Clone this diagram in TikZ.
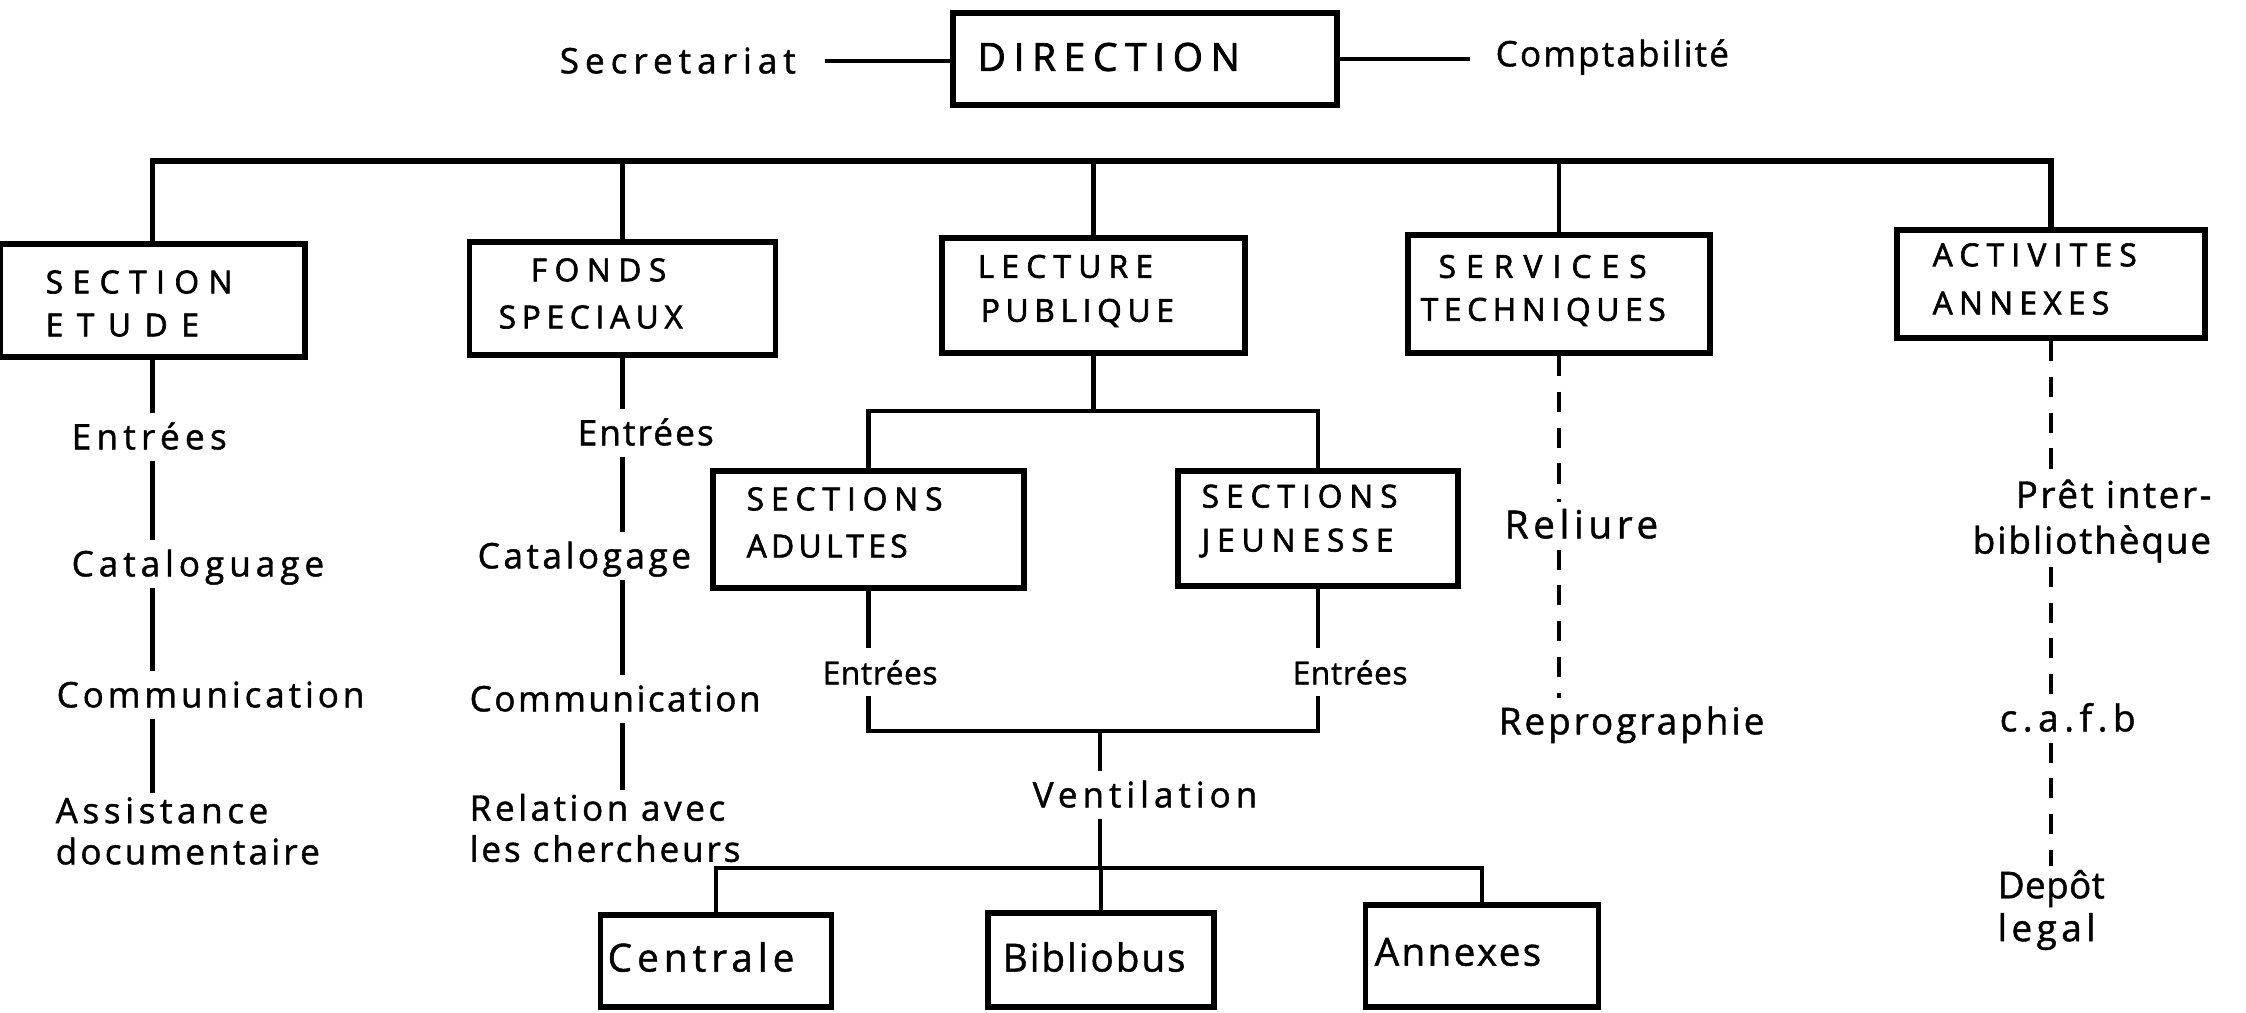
\documentclass[tikz,border=0pt]{standalone}
\usepackage{fontspec}
\setmainfont{Open Sans}
\newfontfamily\hand[FakeBold=1.2]{Open Sans}
\newfontfamily\capf[FakeBold=2]{Open Sans}
\newcommand\HF[3]{\hand\fontsize{#1}{#2}\selectfont\addfontfeature{LetterSpace=#3}}
\newcommand\CF[3]{\capf\fontsize{#1}{#2}\selectfont\addfontfeature{LetterSpace=#3}}
\newcommand\LS[1]{\addfontfeature{LetterSpace=#1}}
\begin{document}
\begin{tikzpicture}[x=0.01cm,y=-0.01cm,
  box/.style={draw, line width=1.6pt, inner sep=0pt},
  conn/.style={line width=1.2pt},
  bus/.style={line width=1.6pt},
  dsh/.style={line width=1.2pt, dash pattern=on 5.7pt off 4.5pt},
  txt/.style={anchor=west, inner xsep=0pt, inner ysep=1pt, text height=9pt, text depth=2pt},
  mtxt/.style={anchor=west, inner xsep=0pt, inner ysep=1pt, align=left},
  lbl/.style={anchor=west, inner sep=0pt, align=left}]
\useasboundingbox (0,0) rectangle (2246,1012);
\fill[white] (0,0) rectangle (2246,1012);

% --- boxes ---
\node[box, minimum width=3.84cm, minimum height=0.92cm] (dir) at (1145,59) {};
\node[box, minimum width=3.05cm, minimum height=1.13cm] (se) at (152.5,300.5) {};
\node[box, minimum width=3.06cm, minimum height=1.13cm] (fs) at (622.5,298.5) {};
\node[box, minimum width=3.03cm, minimum height=1.15cm] (lp) at (1093.5,295.5) {};
\node[box, minimum width=3.02cm, minimum height=1.18cm] (st) at (1559,294) {};
\node[box, minimum width=3.08cm, minimum height=1.08cm] (aa) at (2051,284) {};
\node[box, minimum width=3.11cm, minimum height=1.17cm] (sa) at (868.5,529.5) {};
\node[box, minimum width=2.80cm, minimum height=1.15cm] (sj) at (1318,528.5) {};
\node[box, minimum width=2.31cm, minimum height=0.92cm] (ce) at (716,961) {};
\node[box, minimum width=2.26cm, minimum height=0.94cm] (bi) at (1101,960) {};
\node[box, minimum width=2.33cm, minimum height=1.02cm] (an) at (1482,956) {};

% --- box labels ---
\node[lbl, font=\CF{11}{13}{20}] (dirL) at (977,57) {DIRECTION};
\node[lbl, font=\CF{9}{12.2}{0}] (seL) at (45,303.5) {{\LS{30}SECTION}\\{\LS{43}ETUDE}};
\node[lbl, font=\CF{9}{13.4}{0}] (fsL) at (498,293.5) {{\hspace*{9.1pt}\LS{24}FONDS}\\{\LS{18}SPECIAUX}};
\node[lbl, font=\CF{9}{12.5}{0}] (lpL) at (977,291) {{\LS{23}LECTURE}\\{\hspace*{0.9pt}\LS{18}PUBLIQUE}};
\node[lbl, font=\CF{9}{12.2}{0}] (stL) at (1420,290.5) {{\hspace*{5.1pt}\LS{32}SERVICES}\\{\LS{18}TECHNIQUES}};
\node[lbl, font=\CF{9}{13.7}{0}] (aaL) at (1932,279) {{\LS{23}ACTIVITES}\\{\LS{20}ANNEXES}};
\node[lbl, font=\CF{9}{13.4}{0}] (saL) at (746,522.5) {{\LS{22}SECTIONS}\\{\LS{14}ADULTES}};
\node[lbl, font=\CF{9}{12.5}{0}] (sjL) at (1201,521) {{\LS{22}SECTIONS}\\{\LS{22}JEUNESSE}};
\node[lbl, font=\HF{11}{13}{13}] (ceL) at (607,957) {Centrale};
\node[lbl, font=\HF{11}{13}{5}] (biL) at (1002,957) {Bibliobus};
\node[lbl, font=\HF{11}{13}{6}] (anL) at (1374,952) {Annexes};

% --- text labels ---
\node[txt, font=\HF{10}{12}{17}] (sec) at (559,61) {Secretariat};
\node[txt, font=\HF{10}{12}{6}] (comp) at (1495,54) {Comptabilité};

\node[txt, font=\HF{10}{12}{15}] (seE) at (71,437) {Entrées};
\node[txt, font=\HF{10}{12}{14}] (seC) at (71,564) {Cataloguage};
\node[txt, font=\HF{10}{12}{11}] (seM) at (56,695) {Communication};
\node[mtxt, font=\HF{10}{11.7}{0}] (seA) at (55,831) {{\LS{13}Assistance}\\{\LS{9}documentaire}};

\node[txt, font=\HF{10}{12}{6}] (fsE) at (577,433) {Entrées};
\node[txt, font=\HF{10}{12}{10}] (fsC) at (477,556) {Catalogage};
\node[txt, font=\HF{10}{12}{7}] (fsM) at (469,699) {Communication};
\node[mtxt, font=\HF{10}{11.7}{0}] (fsR) at (469,828) {{\LS{10}Relation avec}\\{\LS{8}les chercheurs}};

\node[txt, font=\HF{9}{11}{2}] (saE) at (822,672) {Entrées};
\node[txt, font=\HF{9}{11}{2}] (sjE) at (1292,672) {Entrées};
\node[txt, font=\HF{10}{12}{14}] (ven) at (1032,795) {Ventilation};

\node[txt, font=\HF{11}{13}{12}] (rel) at (1504,526) {Reliure};
\node[txt, font=\HF{10.5}{12}{8}] (rep) at (1498,722) {Reprographie};

\node[mtxt, font=\HF{10.5}{13}{0}] (pret) at (1972,521) {{\hspace*{12.2pt}\LS{7}Prêt inter-}\\{\LS{5}bibliothèque}};
\node[txt, font=\HF{10.5}{12}{15}] (cafb) at (1999,719) {c.a.f.b};
\node[mtxt, font=\HF{10.5}{12.2}{0}] (depot) at (1997,910) {{\LS{1}Depôt}\\{\LS{12}legal}};

% --- connectors ---
\draw[conn, shorten <=8pt] (sec.east) -- (sec.east -| dir.west);
\draw[conn, shorten >=7pt] (dir.east) -- (dir.east -| comp.west);

\coordinate (busc) at (1100,161);
\draw[bus] (se.north) |- (busc) -| (aa.north);
\draw[conn] (fs.north) -- (fs.north |- busc);
\draw[conn] (lp.north) -- (lp.north |- busc);
\draw[conn] (st.north) -- (st.north |- busc);

\draw[conn] (se.south) -- (se.south |- seE.north);
\draw[conn] (se.south |- seE.south) -- (se.south |- seC.north);
\draw[conn] (se.south |- seC.south) -- (se.south |- seM.north);
\draw[conn] (se.south |- seM.south) -- (se.south |- seA.north);

\draw[conn] (fs.south) -- (fs.south |- fsE.north);
\draw[conn] (fs.south |- fsE.south) -- (fs.south |- fsC.north);
\draw[conn] (fs.south |- fsC.south) -- (fs.south |- fsM.north);
\draw[conn] (fs.south |- fsM.south) -- (fs.south |- fsR.north);

\coordinate (lpb) at (1093.5,411);
\draw[conn] (lp.south) -- (lpb);
\draw[conn] (sa.north) |- (lpb) -| (sj.north);

\draw[conn] (sa.south) -- (sa.south |- saE.north);
\draw[conn] (sj.south) -- (sj.south |- sjE.north);
\coordinate (vb) at (1100,731);
\draw[conn] (sa.south |- saE.south) |- (vb) -| (sj.south |- sjE.south);
\draw[conn] (vb) -- (vb |- ven.north);
\coordinate (bb) at (1100,868);
\draw[conn] (vb |- ven.south) -- (bb);
\draw[conn] (ce.north) |- (bb) -| (an.north);
\draw[conn] (bi.north) -- (bi.north |- bb);

\draw[dsh] (st.south) -- (st.south |- rel.north);
\draw[dsh] (st.south |- rel.south) -- (st.south |- rep.north);

\draw[dsh] (aa.south) -- (aa.south |- pret.north);
\draw[dsh] (aa.south |- pret.south) -- (aa.south |- cafb.north);
\draw[dsh] (aa.south |- cafb.south) -- (aa.south |- depot.north);
\end{tikzpicture}
\end{document}
